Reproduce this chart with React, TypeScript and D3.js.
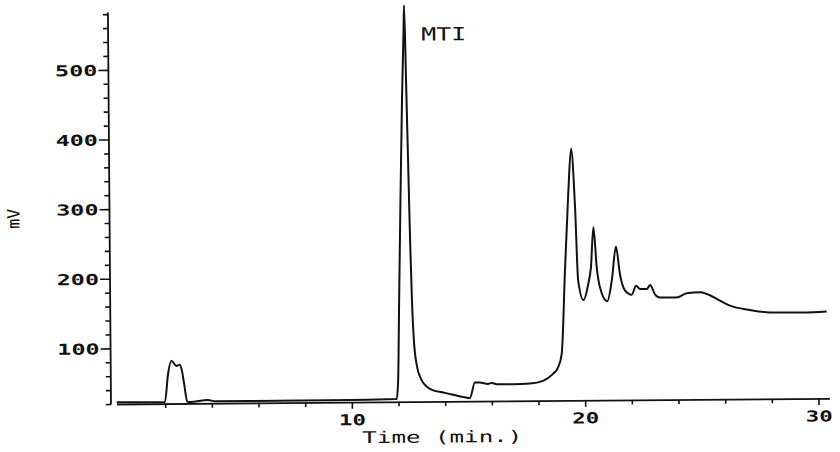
import { useEffect, useRef } from 'react';
import * as d3 from 'd3';

// chromatogram trace (time in min, signal in mV)
const timeMin = [
  -0.1, 1.97, 2.11, 2.26, 2.47, 2.61, 2.71, 2.8, 2.93, 3.04, 3.81, 4.11, 5.6, 7.76, 9.9, 11.9,
  11.97, 12.04, 12.13, 12.23, 12.32, 12.35, 12.41, 12.47, 12.53, 12.59, 12.66, 12.78, 12.95,
  13.16, 13.42, 13.98, 14.87, 15.04, 15.26, 15.47, 15.82, 15.98, 16.19, 16.89, 17.62, 18.18,
  18.61, 18.82, 18.99, 19.03, 19.15, 19.33, 19.46, 19.61, 19.72, 19.94, 20.15, 20.27, 20.39,
  20.52, 20.65, 20.96, 21.16, 21.35, 21.51, 21.73, 22.01, 22.2, 22.37, 22.66, 22.8, 23.0,
  23.22, 23.93, 24.37, 24.94, 25.23, 25.79, 26.22, 27.07, 27.93, 29.36, 30.36,
];
const signalMv = [
  23.2, 23.2, 62.9, 82.1, 74.8, 76.3, 67.6, 48.5, 23, 22.8, 25.5, 23.6, 23.4, 23.6, 24, 24.6,
  50.8, 165.8, 309.8, 453.8, 554.3, 590.3, 482.3, 367.2, 252.1, 165.7, 108.1, 72.1, 53.4,
  43.3, 37.4, 33, 26, 25.1, 47.5, 47.4, 45.4, 46.8, 44.9, 44.7, 45.4, 49.2,
  59.1, 67.7, 87.8, 106.5, 202.5, 322.2, 382.2, 298.1, 192.6, 164.7, 187.8, 211.7, 269.1,
  211.6, 182.8, 162.6, 192.2, 241.2, 201.8, 177.8, 171.9, 184.7, 180, 180, 185.7, 172.6,
  167.7, 167.5, 173.2, 174.5, 172, 162.3, 155, 148.6, 144.8, 144.5, 145.7,
];

const yTickLabels = [100, 200, 300, 400, 500];
const xTickLabels = [10, 20, 30];
const peakLabel = 'MTI';
const xTitle = 'Time (min.)';
const yTitle = 'mV';

const FONT = "'DejaVu Sans Mono', monospace";

const Chromatogram = () => {
  const svgRef = useRef(null);

  useEffect(() => {
    const root = d3.select(svgRef.current);
    root.selectAll('*').remove();

    const x = d3.scaleLinear().domain([0, 30]).range([119, 819]);
    const y = d3.scaleLinear().domain([20, 583]).range([404.5, 12.5]);

    // the scan is slightly rotated
    const g = root.append('g').attr('transform', 'rotate(-0.45 117 404)');

    // y axis
    const axisX = 111;
    g.append('line')
      .attr('x1', axisX).attr('x2', axisX)
      .attr('y1', y(20)).attr('y2', y(583))
      .attr('stroke', '#111').attr('stroke-width', 1.8);

    const yMinor = d3.range(20, 581, 20);
    g.selectAll('.ytick')
      .data(yMinor)
      .enter()
      .append('line')
      .attr('x1', (d) => (d % 100 === 0 ? axisX - 10 : axisX - 5))
      .attr('x2', axisX)
      .attr('y1', (d) => y(d))
      .attr('y2', (d) => y(d))
      .attr('stroke', '#111')
      .attr('stroke-width', 1.6);

    g.selectAll('.ylab')
      .data(yTickLabels)
      .enter()
      .append('text')
      .attr('x', 100)
      .attr('y', (d) => y(d) + 5.5)
      .attr('text-anchor', 'end')
      .attr('textLength', (d) => String(d).length * 15.3 - 3.6)
      .attr('lengthAdjust', 'spacingAndGlyphs')
      .style('font-family', FONT)
      .style('font-size', '15px')
      .style('font-weight', 'bold')
      .attr('fill', '#111')
      .text((d) => d);

    // x axis
    g.append('line')
      .attr('x1', 117).attr('x2', x(30.47))
      .attr('y1', y(20)).attr('y2', y(20))
      .attr('stroke', '#111').attr('stroke-width', 1.8);

    const xMinor = d3.range(2, 31, 2);
    g.selectAll('.xtick')
      .data(xMinor)
      .enter()
      .append('line')
      .attr('x1', (d) => x(d))
      .attr('x2', (d) => x(d))
      .attr('y1', y(20))
      .attr('y2', (d) => (d % 10 === 0 ? y(20) + 6 : y(20) + 4))
      .attr('stroke', '#111')
      .attr('stroke-width', 1.6);

    g.selectAll('.xlab')
      .data(xTickLabels)
      .enter()
      .append('text')
      .attr('x', (d) => x(d))
      .attr('y', 427)
      .attr('text-anchor', 'middle')
      .attr('textLength', (d) => String(d).length * 15.3 - 3.6)
      .attr('lengthAdjust', 'spacingAndGlyphs')
      .style('font-family', FONT)
      .style('font-size', '15px')
      .style('font-weight', 'bold')
      .attr('fill', '#111')
      .text((d) => d);

    // axis titles
    g.append('text')
      .attr('x', 442)
      .attr('y', 445)
      .attr('text-anchor', 'middle')
      .attr('textLength', 160)
      .attr('lengthAdjust', 'spacingAndGlyphs')
      .style('font-family', FONT)
      .style('font-size', '16px')
      .attr('fill', '#111')
      .text(xTitle);

    g.append('text')
      .attr('transform', 'translate(21,218) rotate(-90)')
      .attr('text-anchor', 'middle')
      .attr('textLength', 20)
      .attr('lengthAdjust', 'spacingAndGlyphs')
      .style('font-family', FONT)
      .style('font-size', '17px')
      .attr('fill', '#111')
      .text(yTitle);

    // trace
    const pts = timeMin.map((t, i) => [t, signalMv[i]]);
    const line = d3
      .line()
      .x((d) => x(d[0]))
      .y((d) => y(d[1]))
      .curve(d3.curveMonotoneX);

    g.append('path')
      .datum(pts)
      .attr('d', line)
      .attr('fill', 'none')
      .attr('stroke', '#111')
      .attr('stroke-width', 2)
      .attr('stroke-linejoin', 'round');

    // peak annotation
    g.append('text')
      .attr('x', 424)
      .attr('y', 43)
      .attr('textLength', 45)
      .attr('lengthAdjust', 'spacingAndGlyphs')
      .style('font-family', FONT)
      .style('font-size', '18px')
      .attr('fill', '#111')
      .text(peakLabel);
  }, []);

  return (
    <svg
      ref={svgRef}
      width={840}
      height={452}
      style={{ position: 'absolute', left: 0, top: 0, background: '#fff' }}
    ></svg>
  );
};

export default function App() {
  return <Chromatogram />;
}
